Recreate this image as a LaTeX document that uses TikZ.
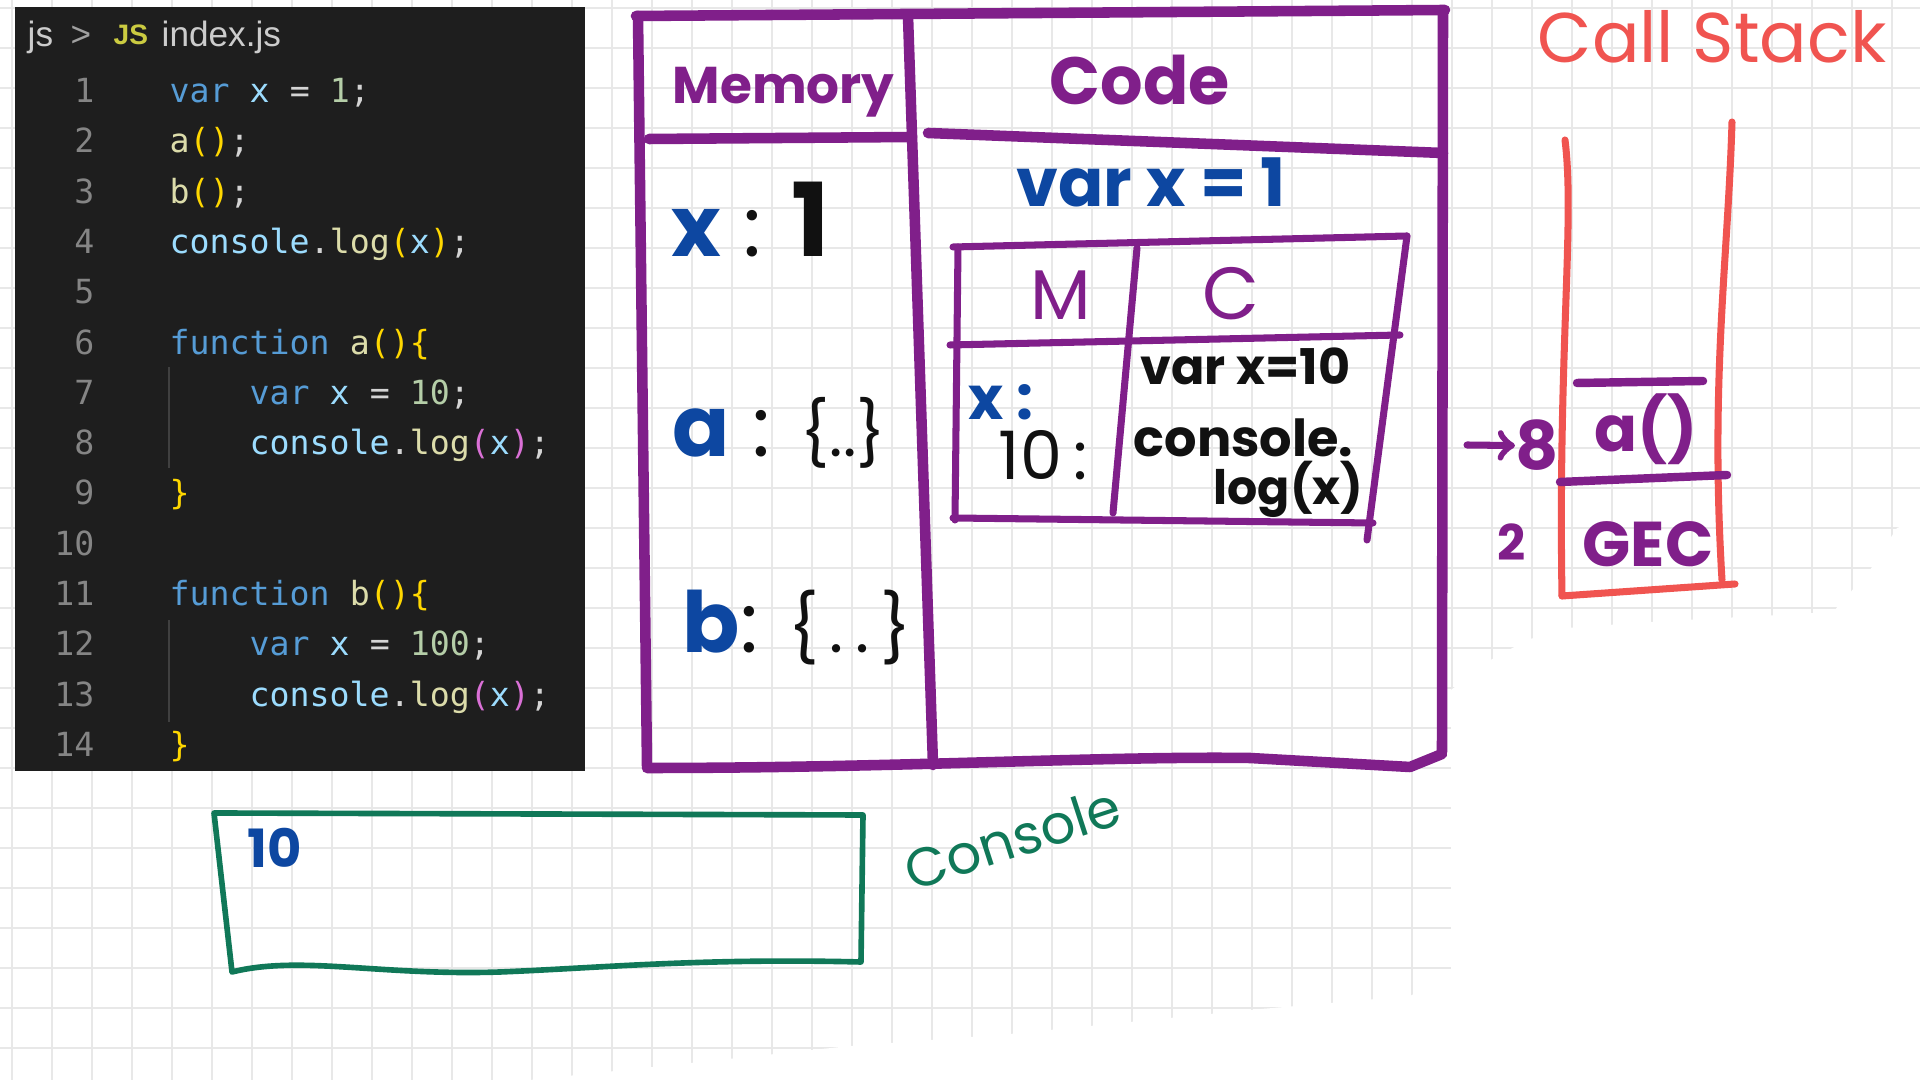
\documentclass[tikz,border=0pt]{standalone}
\usepackage{fontspec}
\newfontfamily\codefont{DejaVu Sans Mono}
\newfontfamily\uifont{Liberation Sans}
\newfontfamily\handfont{Poppins}
\newcommand\handat[1]{\handfont\fontsize{#1}{#1}\selectfont}

\definecolor{gridgray}{RGB}{232,232,232}
\definecolor{panelbg}{RGB}{30,30,30}
\definecolor{vskw}{RGB}{86,156,214}
\definecolor{vsid}{RGB}{156,220,254}
\definecolor{vsnum}{RGB}{181,206,168}
\definecolor{vsfun}{RGB}{220,220,170}
\definecolor{vsgold}{RGB}{255,215,0}
\definecolor{vsorchid}{RGB}{218,112,214}
\definecolor{vspunct}{RGB}{212,212,212}
\definecolor{lngray}{RGB}{133,133,133}
\definecolor{guidegray}{RGB}{64,64,64}
\definecolor{crumbtext}{RGB}{204,204,204}
\definecolor{crumbgray}{RGB}{160,160,160}
\definecolor{jsyellow}{RGB}{203,203,65}
\definecolor{penpurple}{RGB}{128,31,138}
\definecolor{inkblue}{RGB}{13,71,161}
\definecolor{inkblack}{RGB}{17,17,17}
\definecolor{stackred}{RGB}{240,84,80}
\definecolor{consolegreen}{RGB}{16,120,88}

\newcommand\ckw[1]{\textcolor{vskw}{#1}}
\newcommand\cid[1]{\textcolor{vsid}{#1}}
\newcommand\cnum[1]{\textcolor{vsnum}{#1}}
\newcommand\cfun[1]{\textcolor{vsfun}{#1}}
\newcommand\cbra[1]{\textcolor{vsgold}{#1}}
\newcommand\cbrb[1]{\textcolor{vsorchid}{#1}}

\begin{document}
\begin{tikzpicture}[x=0.01cm,y=-0.01cm]
        \tikzset{gridline/.style={draw=gridgray,line width=0.42pt}}
        \tikzset{frame/.style={draw=penpurple,line width=3pt,line cap=round,line join=round}}
        \tikzset{thinframe/.style={draw=penpurple,line width=2pt,line cap=round,line join=round}}
        \tikzset{stackline/.style={draw=stackred,line width=2pt,line cap=round,line join=round}}
        \tikzset{stackbar/.style={draw=penpurple,line width=2.4pt,line cap=round}}
        \tikzset{consolebox/.style={draw=consolegreen,line width=1.6pt,line cap=round,line join=round}}
        \tikzset{lineno/.style={font=\codefont\fontsize{9.45}{11}\selectfont,text=lngray,anchor=base east,inner sep=0pt}}
        \tikzset{codeline/.style={font=\codefont\fontsize{9.45}{11}\selectfont,text=vspunct,anchor=base west,inner sep=0pt}}
        \tikzset{crumb/.style={font=\uifont\fontsize{10}{12}\selectfont,text=crumbtext,anchor=base west,inner sep=0pt}}
        \tikzset{hand/.style={font=\handat{20},text=inkblack,anchor=base west,inner sep=0pt}}

        \useasboundingbox (0,0) rectangle (1920,1080);
        \fill[white] (0,0) rectangle (1920,1080);
        \foreach \gx in {12,52,...,1892}
            \draw[gridline] (\gx,0) -- (\gx,1080);
        \foreach \gy in {8,48,...,1048}
            \draw[gridline] (0,\gy) -- (1920,\gy);
        \fill[white] (1920,520) -- (1897,528) -- (1870,570) -- (1833,612) -- (1650,622) -- (1567,628) -- (1527,640) -- (1487,662) -- (1451,690) -- (1451,975) -- (1410,996) -- (1250,1010) -- (1010,1034) -- (850,1046) -- (700,1062) -- (530,1080) -- (1920,1080) -- cycle;

        \fill[panelbg] (15,7) rectangle (585,771);
        \node[crumb] (crumbdir) at (27,47) {js};
        \node[crumb,text=crumbgray] (crumbsep) at (70,47) {>};
        \node[crumb,text=jsyellow,font=\uifont\bfseries\fontsize{8}{8}\selectfont] (jsicon) at (113,45) {JS};
        \node[crumb] (crumbfile) at (161,47) {index.js};

        \foreach \n in {1,...,14}
            \node[lineno] (num\n) at (95,{102.6+50.3*(\n-1)}) {\n};
        \foreach \n/\cx/\txt in {
            1/169/{\ckw{var} \cid{x} = \cnum{1};},
            2/169/{\cfun{a}\cbra{()};},
            3/169/{\cfun{b}\cbra{()};},
            4/169/{\cid{console}.\cfun{log}\cbra{(}\cid{x}\cbra{)};},
            6/169/{\ckw{function} \cfun{a}\cbra{()\{}},
            7/249/{\ckw{var} \cid{x} = \cnum{10};},
            8/249/{\cid{console}.\cfun{log}\cbrb{(}\cid{x}\cbrb{)};},
            9/169/{\cbra{\}}},
            11/169/{\ckw{function} \cfun{b}\cbra{()\{}},
            12/249/{\ckw{var} \cid{x} = \cnum{100};},
            13/249/{\cid{console}.\cfun{log}\cbrb{(}\cid{x}\cbrb{)};},
            14/169/{\cbra{\}}}
        }
            \node[codeline] (code\n) at (\cx,{102.6+50.3*(\n-1)}) {\txt};
        \draw[draw=guidegray,line width=0.45pt] (169,367) -- (169,468);
        \draw[draw=guidegray,line width=0.45pt] (169,620) -- (169,722);

        \draw[frame] (636,16) -- (1445,10);
        \draw[frame] (638,16) -- (647,766);
        \draw[frame] (1443,12) -- (1442,752);
        \draw[frame] (647,768) .. controls (900,768) and (1100,756) .. (1250,758) -- (1410,767) -- (1442,754);
        \draw[frame] (908,16) -- (933,765);
        \draw[frame] (649,139) -- (912,137);
        \draw[frame] (928,133) -- (1443,153);

        \node[hand,text=penpurple,font=\handat{14.7}\bfseries] (memtitle) at (672,104) {Memory};
        \node[hand,text=penpurple,font=\handat{19}\bfseries] (codetitle) at (1049,105) {Code};
        \node[hand,font=\handat{24}] (memx) at (671,257) {{\bfseries\textcolor{inkblue}{x}} : {\fontsize{29}{29}\selectfont\bfseries 1}};
        \node[hand,font=\handat{24}] (mema) at (672,457) {{\bfseries\textcolor{inkblue}{a}} : {\fontsize{18}{18}\selectfont\{..\}}};
        \node[hand,font=\handat{24}] (memb) at (682,653) {{\bfseries\textcolor{inkblue}{b}}: {\fontsize{19}{19}\selectfont\{\,.\,.\,\}}};
        \node[hand,text=inkblue,font=\handat{19}\bfseries] (codevar) at (1016,207) {var x = 1};

        \draw[thinframe] (953,247) -- (1407,236);
        \draw[thinframe] (958,247) -- (955,520);
        \draw[thinframe] (950,345) -- (1400,335);
        \draw[thinframe] (1137,248) -- (1113,513);
        \draw[thinframe] (953,518) -- (1373,523);
        \draw[thinframe] (1407,236) -- (1367,540);
        \node[hand,text=penpurple,font=\handat{20}] (innerm) at (1030,320) {M};
        \node[hand,text=penpurple,font=\handat{21}] (innerc) at (1202,320) {C};
        \node[hand,text=inkblue,font=\handat{17}\bfseries] (innerx) at (968,420) {x :};
        \node[hand,font=\handat{19}] (innerten) at (998,480) {10\,:};
        \node[hand,font=\handat{14}\bfseries] (innervar) at (1140,385) {var x=10};
        \node[hand,font=\handat{14.5}\bfseries] (innerlog) at (1133,457) {console.};
        \node[hand,font=\handat{13.5}\bfseries] (innerlogx) at (1213,505) {log(x)};

        \node[hand,text=stackred,font=\handat{20}] (stacktitle) at (1537,63) {Call Stack};
        \draw[stackline] (1565,140) .. controls (1575,220) and (1558,350) .. (1562,596);
        \draw[stackline] (1732,122) .. controls (1728,260) and (1710,380) .. (1722,580);
        \draw[stackline] (1562,596) -- (1735,584);
        \draw[stackbar] (1577,383) -- (1703,381);
        \draw[stackbar] (1560,482) -- (1727,475);
        \node[hand,text=penpurple,font=\handat{18}\bfseries] (framea) at (1594,452) {a()};
        \node[hand,text=penpurple,font=\handat{18}\bfseries] (framegec) at (1582,567) {GEC};
        \node[hand,text=penpurple,font=\handat{19}\bfseries] (eight) at (1515,470) {8};
        \node[hand,text=penpurple,font=\handat{14}\bfseries] (two) at (1497,561) {2};
        \coordinate (arrowtail) at (1467,445);
        \draw[stackbar,line width=2pt,->] (arrowtail) -- (eight.west);

        \draw[consolebox] (214,813) -- (863,815) -- (861,962) .. controls (700,958) and (600,968) .. (500,972) .. controls (380,976) and (300,955) .. (232,972) -- cycle;
        \node[hand,text=inkblue,font=\handat{15}\bfseries] (consoleout) at (247,868) {10};
        \node[hand,text=consolegreen,font=\handat{15.5},rotate=18] (consolelabel) at (912,892) {Console};
    \end{tikzpicture}
\end{document}
